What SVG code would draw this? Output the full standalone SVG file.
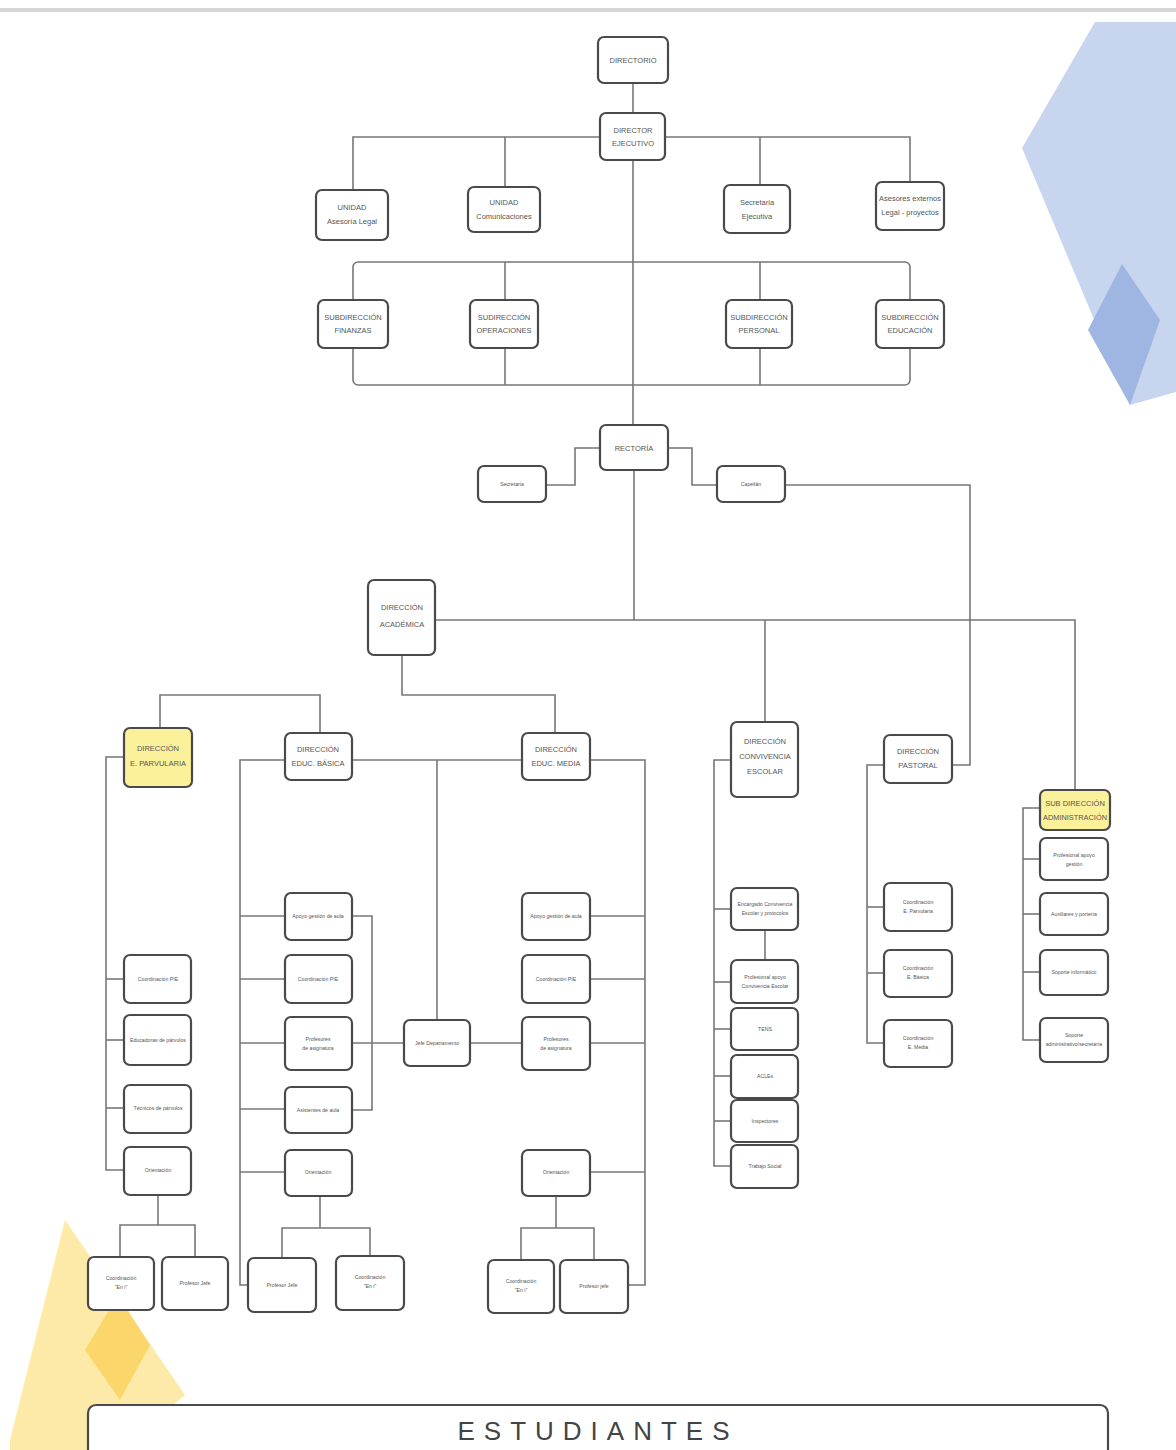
<svg xmlns="http://www.w3.org/2000/svg" width="1176" height="1450" viewBox="0 0 1176 1450">
<defs>
<style>
.n rect{fill:#fff;stroke:#4a4a4a;stroke-width:2.2}
.y rect{fill:#fbf19a;stroke:#4a4a4a;stroke-width:2.2}
text{font-family:"Liberation Sans",Arial,sans-serif;fill:#555;text-anchor:middle}
.t9{font-size:7.5px}
.t5{font-size:5.2px}
#connectors path,#connectors line{fill:none;stroke:#777;stroke-width:1.6}
</style>
</defs>
<rect x="0" y="0" width="1176" height="1450" fill="#fff"/>
<rect x="0" y="8" width="1176" height="4" fill="#d6d6d6"/>
<g id="decor">
<polygon points="1095,22 1176,22 1176,392 1130,405 1022,148" fill="#c8d5ef"/>
<polygon points="1088,330 1122,264 1160,320 1130,405" fill="#9fb5e2"/>
<polygon points="10,1440 65,1220 185,1395 120,1450 10,1450" fill="#fdeaa8"/>
<polygon points="85,1350 118,1295 150,1345 120,1400" fill="#fbd66a"/>
</g>
<g id="connectors">
<line x1="633" y1="83" x2="633" y2="113"/>
<path d="M353,190 V137 H910 V182"/>
<line x1="505" y1="137" x2="505" y2="187"/>
<line x1="760" y1="137" x2="760" y2="185"/>
<line x1="633" y1="160" x2="633" y2="425"/>
<rect x="353" y="262" width="557" height="123" rx="5" fill="none" stroke="#777" stroke-width="1.6"/>
<line x1="505" y1="262" x2="505" y2="385"/>
<line x1="760" y1="262" x2="760" y2="385"/>
<path d="M600,448 H575 V485 H546"/>
<path d="M668,448 H692 V485 H717"/>
<path d="M785,485 H970 V765 H952"/>
<path d="M634,470 V620 H1075 V790"/>
<line x1="435" y1="620" x2="634" y2="620"/>
<line x1="765" y1="620" x2="765" y2="722"/>
<path d="M402,655 V695 H555 V733"/>
<path d="M160,728 V695 H320 V733"/>
<path d="M124,757 H106 V1170 H124"/>
<line x1="106" y1="979" x2="124" y2="979"/>
<line x1="106" y1="1040" x2="124" y2="1040"/>
<line x1="106" y1="1108" x2="124" y2="1108"/>
<path d="M158,1195 V1225"/>
<path d="M120,1257 V1225 H195 V1257"/>
<path d="M285,760 H240 V1285 H248"/>
<line x1="240" y1="916" x2="285" y2="916"/>
<line x1="240" y1="979" x2="285" y2="979"/>
<line x1="240" y1="1043" x2="285" y2="1043"/>
<line x1="240" y1="1109" x2="285" y2="1109"/>
<line x1="240" y1="1172" x2="285" y2="1172"/>
<path d="M352,916 H372 V1110 H352"/>
<line x1="352" y1="1043" x2="404" y2="1043"/>
<path d="M352,760 H522"/>
<line x1="437" y1="760" x2="437" y2="1020"/>
<line x1="470" y1="1043" x2="522" y2="1043"/>
<path d="M320,1196 V1228"/>
<path d="M282,1258 V1228 H370 V1256"/>
<path d="M590,760 H645 V1285 H628"/>
<line x1="590" y1="916" x2="645" y2="916"/>
<line x1="590" y1="979" x2="645" y2="979"/>
<line x1="590" y1="1043" x2="645" y2="1043"/>
<line x1="590" y1="1172" x2="645" y2="1172"/>
<path d="M556,1196 V1228"/>
<path d="M521,1260 V1228 H594 V1260"/>
<path d="M731,760 H714 V1166 H731"/>
<line x1="714" y1="909" x2="731" y2="909"/>
<line x1="714" y1="982" x2="731" y2="982"/>
<line x1="714" y1="1029" x2="731" y2="1029"/>
<line x1="714" y1="1076" x2="731" y2="1076"/>
<line x1="714" y1="1121" x2="731" y2="1121"/>
<line x1="765" y1="930" x2="765" y2="960"/>
<path d="M884,765 H867 V1043 H884"/>
<line x1="867" y1="907" x2="884" y2="907"/>
<line x1="867" y1="973" x2="884" y2="973"/>
<path d="M1040,808 H1023 V1040 H1040"/>
<line x1="1023" y1="859" x2="1040" y2="859"/>
<line x1="1023" y1="914" x2="1040" y2="914"/>
<line x1="1023" y1="972" x2="1040" y2="972"/>
</g>
<g id="directorio" class="n"><rect x="598" y="37" width="70" height="46" rx="6"/><text class="t9" x="633" y="63">DIRECTORIO</text></g>
<g id="director-ejecutivo" class="n"><rect x="600" y="113" width="65" height="47" rx="6"/><text class="t9" x="633" y="133">DIRECTOR</text><text class="t9" x="633" y="146">EJECUTIVO</text></g>
<g id="unidad-legal" class="n"><rect x="316" y="190" width="72" height="50" rx="6"/><text class="t9" x="352" y="210">UNIDAD</text><text class="t9" x="352" y="224">Asesoría Legal</text></g>
<g id="unidad-com" class="n"><rect x="468" y="187" width="72" height="45" rx="6"/><text class="t9" x="504" y="205">UNIDAD</text><text class="t9" x="504" y="219">Comunicaciones</text></g>
<g id="secretaria-ejecutiva" class="n"><rect x="724" y="185" width="66" height="48" rx="6"/><text class="t9" x="757" y="205">Secretaria</text><text class="t9" x="757" y="219">Ejecutiva</text></g>
<g id="asesores" class="n"><rect x="876" y="182" width="68" height="48" rx="6"/><text class="t9" x="910" y="201" textLength="62" lengthAdjust="spacingAndGlyphs">Asesores externos</text><text class="t9" x="910" y="215">Legal - proyectos</text></g>
<g id="sub-finanzas" class="n"><rect x="318" y="300" width="70" height="48" rx="6"/><text class="t9" x="353" y="320">SUBDIRECCIÓN</text><text class="t9" x="353" y="333">FINANZAS</text></g>
<g id="sub-operaciones" class="n"><rect x="470" y="300" width="68" height="48" rx="6"/><text class="t9" x="504" y="320">SUDIRECCIÓN</text><text class="t9" x="504" y="333">OPERACIONES</text></g>
<g id="sub-personal" class="n"><rect x="726" y="300" width="66" height="48" rx="6"/><text class="t9" x="759" y="320">SUBDIRECCIÓN</text><text class="t9" x="759" y="333">PERSONAL</text></g>
<g id="sub-educacion" class="n"><rect x="876" y="300" width="68" height="48" rx="6"/><text class="t9" x="910" y="320">SUBDIRECCIÓN</text><text class="t9" x="910" y="333">EDUCACIÓN</text></g>
<g id="rectoria" class="n"><rect x="600" y="425" width="68" height="45" rx="6"/><text class="t9" x="634" y="451">RECTORÍA</text></g>
<g id="secretaria" class="n"><rect x="478" y="466" width="68" height="36" rx="6"/><text class="t5" x="512" y="486">Secretaria</text></g>
<g id="capellan" class="n"><rect x="717" y="466" width="68" height="36" rx="6"/><text class="t5" x="751" y="486">Capellán</text></g>
<g id="dir-academica" class="n"><rect x="368" y="580" width="67" height="75" rx="6"/><text class="t9" x="402" y="610">DIRECCIÓN</text><text class="t9" x="402" y="627">ACADÉMICA</text></g>
<g id="dir-parvularia" class="y"><rect x="124" y="728" width="68" height="59" rx="6"/><text class="t9" x="158" y="751">DIRECCIÓN</text><text class="t9" x="158" y="766">E. PARVULARIA</text></g>
<g id="p-pie" class="n"><rect x="124" y="955" width="67" height="48" rx="6"/><text class="t5" x="158" y="981">Coordinación PIE</text></g>
<g id="p-educadoras" class="n"><rect x="124" y="1015" width="67" height="50" rx="6"/><text class="t5" x="158" y="1042">Educadoras de párvulos</text></g>
<g id="p-tecnicos" class="n"><rect x="124" y="1085" width="67" height="48" rx="6"/><text class="t5" x="158" y="1110">Técnicos de párvulos</text></g>
<g id="p-orientacion" class="n"><rect x="124" y="1147" width="67" height="48" rx="6"/><text class="t5" x="158" y="1172">Orientación</text></g>
<g id="p-coord" class="n"><rect x="88" y="1257" width="66" height="53" rx="6"/><text class="t5" x="121" y="1280">Coordinación</text><text class="t5" x="121" y="1289">"En i"</text></g>
<g id="p-jefe" class="n"><rect x="162" y="1257" width="66" height="53" rx="6"/><text class="t5" x="195" y="1285">Profesor Jefe</text></g>
<g id="dir-basica" class="n"><rect x="285" y="733" width="67" height="47" rx="6"/><text class="t9" x="318" y="752">DIRECCIÓN</text><text class="t9" x="318" y="766">EDUC. BÁSICA</text></g>
<g id="b-apoyo" class="n"><rect x="285" y="893" width="67" height="47" rx="6"/><text class="t5" x="318" y="918">Apoyo gestión de aula</text></g>
<g id="b-pie" class="n"><rect x="285" y="955" width="67" height="48" rx="6"/><text class="t5" x="318" y="981">Coordinación PIE</text></g>
<g id="b-profesores" class="n"><rect x="285" y="1017" width="67" height="53" rx="6"/><text class="t5" x="318" y="1041">Profesores</text><text class="t5" x="318" y="1050">de asignatura</text></g>
<g id="b-asistentes" class="n"><rect x="285" y="1087" width="67" height="46" rx="6"/><text class="t5" x="318" y="1112">Asistentes de aula</text></g>
<g id="b-orientacion" class="n"><rect x="285" y="1150" width="67" height="46" rx="6"/><text class="t5" x="318" y="1174">Orientación</text></g>
<g id="b-jefe" class="n"><rect x="248" y="1258" width="68" height="54" rx="6"/><text class="t5" x="282" y="1287">Profesor Jefe</text></g>
<g id="b-coord" class="n"><rect x="336" y="1256" width="68" height="54" rx="6"/><text class="t5" x="370" y="1279">Coordinación</text><text class="t5" x="370" y="1288">"En i"</text></g>
<g id="jefe-depto" class="n"><rect x="404" y="1020" width="66" height="46" rx="6"/><text class="t5" x="437" y="1045">Jefe Departamento</text></g>
<g id="dir-media" class="n"><rect x="522" y="733" width="68" height="47" rx="6"/><text class="t9" x="556" y="752">DIRECCIÓN</text><text class="t9" x="556" y="766">EDUC. MEDIA</text></g>
<g id="m-apoyo" class="n"><rect x="522" y="893" width="68" height="47" rx="6"/><text class="t5" x="556" y="918">Apoyo gestión de aula</text></g>
<g id="m-pie" class="n"><rect x="522" y="955" width="68" height="48" rx="6"/><text class="t5" x="556" y="981">Coordinación PIE</text></g>
<g id="m-profesores" class="n"><rect x="522" y="1017" width="68" height="53" rx="6"/><text class="t5" x="556" y="1041">Profesores</text><text class="t5" x="556" y="1050">de asignatura</text></g>
<g id="m-orientacion" class="n"><rect x="522" y="1150" width="68" height="46" rx="6"/><text class="t5" x="556" y="1174">Orientación</text></g>
<g id="m-coord" class="n"><rect x="488" y="1260" width="66" height="53" rx="6"/><text class="t5" x="521" y="1283">Coordinación</text><text class="t5" x="521" y="1292">"En i"</text></g>
<g id="m-jefe" class="n"><rect x="560" y="1260" width="68" height="53" rx="6"/><text class="t5" x="594" y="1288">Profesor jefe</text></g>
<g id="dir-convivencia" class="n"><rect x="731" y="722" width="67" height="75" rx="6"/><text class="t9" x="765" y="744">DIRECCIÓN</text><text class="t9" x="765" y="759">CONVIVENCIA</text><text class="t9" x="765" y="774">ESCOLAR</text></g>
<g id="c-encargado" class="n"><rect x="731" y="888" width="67" height="42" rx="6"/><text class="t5" x="765" y="906">Encargado Convivencia</text><text class="t5" x="765" y="915">Escolar y protocolos</text></g>
<g id="c-profesional" class="n"><rect x="731" y="960" width="67" height="43" rx="6"/><text class="t5" x="765" y="979">Profesional apoyo</text><text class="t5" x="765" y="988">Convivencia Escolar</text></g>
<g id="c-tens" class="n"><rect x="731" y="1008" width="67" height="42" rx="6"/><text class="t5" x="765" y="1031">TENS</text></g>
<g id="c-acles" class="n"><rect x="731" y="1055" width="67" height="43" rx="6"/><text class="t5" x="765" y="1078">ACLEs</text></g>
<g id="c-inspectores" class="n"><rect x="731" y="1100" width="67" height="42" rx="6"/><text class="t5" x="765" y="1123">Inspectores</text></g>
<g id="c-trabajo" class="n"><rect x="731" y="1145" width="67" height="43" rx="6"/><text class="t5" x="765" y="1168">Trabajo Social</text></g>
<g id="dir-pastoral" class="n"><rect x="884" y="735" width="68" height="48" rx="6"/><text class="t9" x="918" y="754">DIRECCIÓN</text><text class="t9" x="918" y="768">PASTORAL</text></g>
<g id="pa-parv" class="n"><rect x="884" y="883" width="68" height="48" rx="6"/><text class="t5" x="918" y="904">Coordinación</text><text class="t5" x="918" y="913">E. Parvularia</text></g>
<g id="pa-basica" class="n"><rect x="884" y="950" width="68" height="47" rx="6"/><text class="t5" x="918" y="970">Coordinación</text><text class="t5" x="918" y="979">E. Básica</text></g>
<g id="pa-media" class="n"><rect x="884" y="1020" width="68" height="47" rx="6"/><text class="t5" x="918" y="1040">Coordinación</text><text class="t5" x="918" y="1049">E. Media</text></g>
<g id="sub-admin" class="y"><rect x="1040" y="790" width="70" height="40" rx="6"/><text class="t9" x="1075" y="806">SUB DIRECCIÓN</text><text class="t9" x="1075" y="820" textLength="64" lengthAdjust="spacingAndGlyphs">ADMINISTRACIÓN</text></g>
<g id="a-profesional" class="n"><rect x="1040" y="838" width="68" height="42" rx="6"/><text class="t5" x="1074" y="857">Profesional apoyo</text><text class="t5" x="1074" y="866">gestión</text></g>
<g id="a-auxiliares" class="n"><rect x="1040" y="893" width="68" height="42" rx="6"/><text class="t5" x="1074" y="916">Auxiliares y portería</text></g>
<g id="a-soporte-inf" class="n"><rect x="1040" y="950" width="68" height="45" rx="6"/><text class="t5" x="1074" y="974">Soporte informático</text></g>
<g id="a-soporte-adm" class="n"><rect x="1040" y="1018" width="68" height="44" rx="6"/><text class="t5" x="1074" y="1037">Soporte</text><text class="t5" x="1074" y="1046">administrativo/secretaría</text></g>
<g id="estudiantes" class="n"><rect x="88" y="1405" width="1020" height="60" rx="8"/><text x="598" y="1440" style="font-size:26px;letter-spacing:9px;fill:#444">ESTUDIANTES</text></g>
</svg>
